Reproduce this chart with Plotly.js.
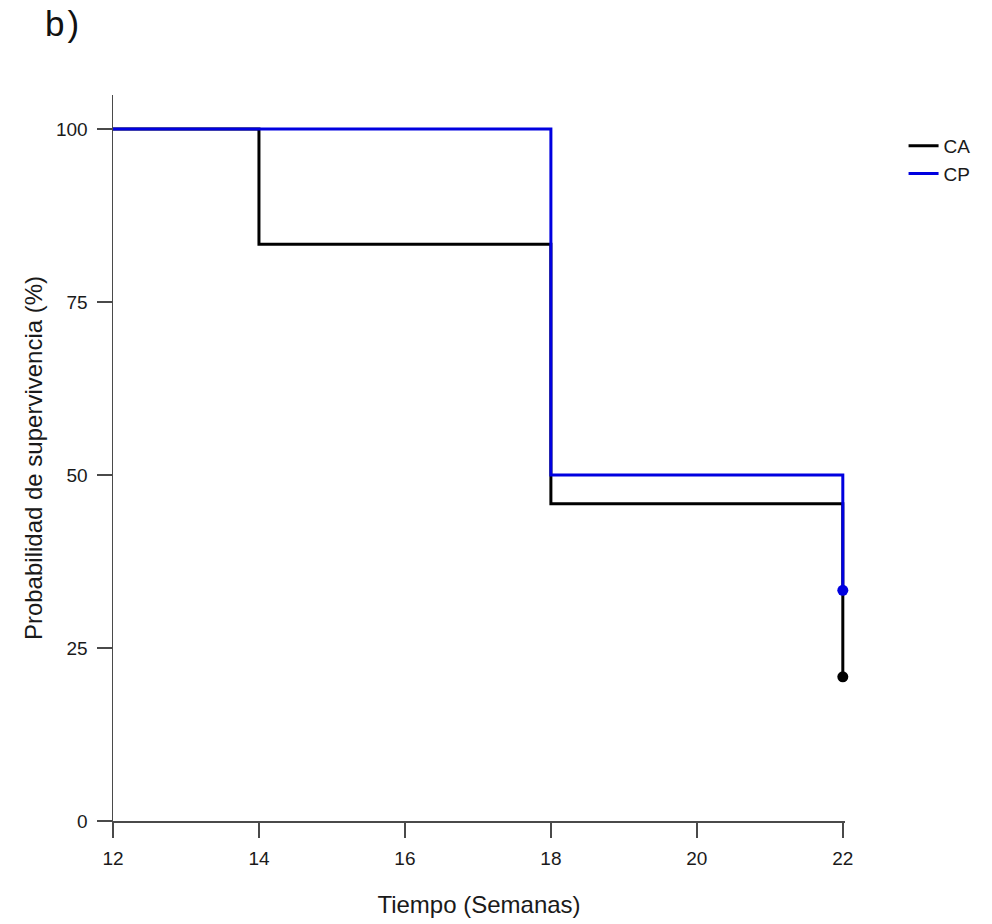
<!DOCTYPE html>
<html>
<head>
<meta charset="utf-8">
<script src="https://cdn.plot.ly/plotly-3.0.1.min.js"></script>
<style>html,body{margin:0;padding:0;background:#fff;}#chart{width:992px;height:924px;}</style>
</head>
<body>
<div id="chart"></div>
<script>
// Kaplan-Meier survival data
const caWeeks = [12, 14, 18, 22];
const caSurv  = [100, 83.33, 45.83, 20.83];
const cpWeeks = [12, 18, 22];
const cpSurv  = [100, 50, 33.33];
const seriesNames = ["CA", "CP"];
const xTicks = [12, 14, 16, 18, 20, 22];
const yTicks = [0, 25, 50, 75, 100];

const blue = "#0000e0";
const black = "#000000";
const font = "Liberation Sans, Arial, sans-serif";

const traces = [
  {x: caWeeks, y: caSurv, name: seriesNames[0], mode: "lines", line: {shape: "hv", color: black, width: 3}, cliponaxis: false},
  {x: cpWeeks, y: cpSurv, name: seriesNames[1], mode: "lines", line: {shape: "hv", color: blue, width: 3}, cliponaxis: false},
  {x: [caWeeks[caWeeks.length-1]], y: [caSurv[caSurv.length-1]], mode: "markers", showlegend: false, cliponaxis: false, marker: {color: black, size: 11}},
  {x: [cpWeeks[cpWeeks.length-1]], y: [cpSurv[cpSurv.length-1]], mode: "markers", showlegend: false, cliponaxis: false, marker: {color: blue, size: 11}}
];

const layout = {
  width: 992, height: 924,
  margin: {l: 113, r: 147, t: 95, b: 103},
  paper_bgcolor: "#fff", plot_bgcolor: "#fff",
  font: {family: font, size: 19, color: "#1a1a1a"},
  xaxis: {
    showgrid: false, zeroline: false, showline: true, linecolor: "#4a4a4a", linewidth: 1.5,
    ticks: "outside", ticklen: 15, tickcolor: "#4a4a4a", tickwidth: 1.5,
    tickfont: {family: font, size: 19, color: "#1a1a1a"}, ticklabelstandoff: 5,
    tickmode: "array", range: [12, 22.03], tickvals: xTicks, ticktext: xTicks.map(String),
    title: {text: "Tiempo (Semanas)", font: {family: font, size: 24, color: "#1a1a1a"}, standoff: 28}
  },
  yaxis: {
    showgrid: false, zeroline: false, showline: true, linecolor: "#4a4a4a", linewidth: 1.5,
    ticks: "outside", ticklen: 15, tickcolor: "#4a4a4a", tickwidth: 1.5,
    tickfont: {family: font, size: 19, color: "#1a1a1a"}, ticklabelstandoff: 5,
    tickmode: "array", range: [0, 104.9], tickvals: yTicks, ticktext: yTicks.map(String),
    title: {text: "Probabilidad de supervivencia (%)", font: {family: font, size: 24, color: "#1a1a1a"}, standoff: 6}
  },
  legend: {x: 1.08, y: 0.956, xanchor: "left", yanchor: "top", font: {family: font, size: 19, color: "#1a1a1a"}, tracegroupgap: 0, bgcolor: "rgba(0,0,0,0)"},
  annotations: [{
    text: "b\u200a)", xref: "paper", yref: "paper", x: -0.095, y: 1.098, xanchor: "left", yanchor: "middle",
    showarrow: false, font: {family: font, size: 35, color: "#111"}
  }]
};

Plotly.newPlot("chart", traces, layout, {displayModeBar: false, staticPlot: true});
</script>
</body>
</html>
